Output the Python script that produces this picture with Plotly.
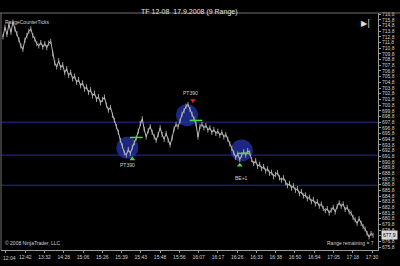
import numpy as np
import plotly.graph_objects as go

# Range bar closes (one value per plotted bar)
closes = [
    712.8, 714.5, 713.2, 715.0, 713.6, 715.4, 714.2, 713.4, 712.3, 711.2,
    710.6, 712.2, 713.0, 713.8, 714.2, 713.0, 712.4, 711.6, 711.2, 711.8,
    711.0, 711.6, 710.9, 711.7, 712.0, 709.8, 708.2, 707.5, 708.6, 707.4,
    707.9, 706.5, 707.2, 706.0, 706.6, 705.4, 705.9, 704.8, 705.3, 704.2,
    704.7, 703.6, 704.0, 703.0, 703.5, 702.4, 702.9, 701.8, 702.3, 701.2,
    701.8, 702.2, 700.8, 699.9, 700.4, 699.0, 698.1, 697.0, 696.0, 694.6,
    693.6, 692.4, 692.0, 693.0, 692.3, 693.4, 694.2, 695.0, 696.2, 697.6,
    698.4, 696.5, 695.2, 696.3, 697.0, 696.0, 695.2, 694.6, 695.6, 696.8,
    695.6, 694.8, 695.8, 694.6, 693.8, 695.0, 696.6, 697.4, 697.0, 698.0,
    699.2, 699.8, 700.6, 700.9, 700.0, 699.2, 698.4, 697.5, 695.2, 697.0,
    697.4, 696.8, 697.2, 696.4, 696.8, 696.0, 696.5, 695.8, 696.2, 695.5,
    696.0, 695.2, 695.6, 694.8, 694.0, 693.2, 692.4, 691.6, 692.2, 691.2,
    692.0, 692.6, 692.0, 692.8, 692.4, 691.2, 690.5, 691.0, 690.0, 690.4,
    689.6, 690.0, 689.2, 689.6, 688.8, 689.0, 688.2, 688.6, 688.9, 688.0,
    687.6, 688.0, 687.2, 686.6, 687.0, 686.2, 686.6, 685.8, 686.1, 685.2,
    685.6, 684.8, 685.0, 684.3, 684.6, 683.8, 684.2, 683.4, 683.8, 683.0,
    683.4, 682.6, 682.2, 682.6, 681.8, 682.3, 682.8, 682.0, 683.0, 683.6,
    683.0, 683.4, 682.4, 682.8, 682.0, 681.8, 681.0, 680.6, 680.0, 680.8,
    680.0, 679.4, 679.0, 678.2, 677.6, 678.2, 677.9,
]
bar_range = 0.9  # 9 ticks of 0.1

time_labels = ["12:04", "12:42", "13:32", "14:28", "15:06", "15:26", "15:39", "15:43",
               "15:48", "15:56", "16:07", "16:17", "16:26", "16:33", "16:38", "16:50",
               "16:54", "17:05", "17:18", "17:30"]

price_ticks = [675.8 + i for i in range(42)]
price_labels = [f"{p:.1f}".replace(".", ",") for p in price_ticks]

hlines = [697.8, 692.0, 686.7]

# Trade markers
circle_x = [62.5, 92.5, 120]
circle_y = [693.3, 699.0, 692.8]
label_x = [62.5, 94, 120]
label_y = [690.2, 702.9, 688.0]
label_txt = ["PT390", "PT390", "BE+1"]
dash_x = [67, 97, 121]
dash_y = [695.1, 698.1, 692.3]
up_x = [65, 119]
up_y = [691.3, 690.2]
down_x = [95.5]
down_y = [701.6]

n = len(closes)
x = np.arange(n)

fig = go.Figure()
for yv in hlines:
    fig.add_shape(type="line", xref="paper", x0=0, x1=1, yref="y", y0=yv, y1=yv,
                  line=dict(color="#2a2aa6", width=1), layer="below")

fig.add_trace(go.Scatter(
    x=circle_x, y=circle_y, mode="markers",
    marker=dict(size=22, color="rgba(40,55,185,0.7)", line=dict(width=0)),
    hoverinfo="skip"))

fig.add_trace(go.Scatter(
    x=x, y=closes, mode="lines",
    line=dict(color="#b8b8b8", width=1),
    error_y=dict(type="constant", value=bar_range / 2, color="#a0a0a0", thickness=1, width=0),
    hoverinfo="skip"))

fig.add_trace(go.Scatter(
    x=dash_x, y=dash_y, mode="markers",
    marker=dict(symbol="line-ew", size=9, line=dict(color="#3fe03f", width=1.5)),
    hoverinfo="skip"))
fig.add_trace(go.Scatter(
    x=up_x, y=up_y, mode="markers",
    marker=dict(symbol="triangle-up", size=5, color="#3fe03f"),
    hoverinfo="skip"))
fig.add_trace(go.Scatter(
    x=down_x, y=down_y, mode="markers",
    marker=dict(symbol="triangle-down", size=5, color="#e02020"),
    hoverinfo="skip"))

for tx, ty, tt in zip(label_x, label_y, label_txt):
    fig.add_annotation(x=tx, y=ty, text=tt, showarrow=False,
                       font=dict(size=5, color="#d0d0d0", family="Liberation Sans"))

step = (n - 3) / (len(time_labels) - 1)
tickvals = [1.5 + step * k for k in range(len(time_labels))]

font_small = dict(size=5, color="#d0d0d0", family="Liberation Sans")

fig.update_layout(
    width=400, height=266,
    paper_bgcolor="black", plot_bgcolor="black",
    margin=dict(l=1, r=22, t=13, b=16),
    showlegend=False,
    xaxis=dict(range=[-1, n + 1.5], tickvals=tickvals, ticktext=time_labels,
               showgrid=False, zeroline=False, showline=True, linecolor="#9a9a9a",
               ticks="outside", ticklen=2, tickcolor="#9a9a9a", tickfont=font_small,
               automargin=False),
    yaxis=dict(range=[675.3, 717.0], side="right", tickvals=price_ticks, ticktext=price_labels,
               showgrid=False, zeroline=False, showline=True, linecolor="#9a9a9a",
               ticks="outside", ticklen=2, tickcolor="#9a9a9a", tickfont=font_small),
)

fig.add_shape(type="line", xref="paper", yref="paper", x0=-0.01, x1=1.06, y0=1.0, y1=1.0,
              line=dict(color="#707070", width=1))
fig.add_shape(type="line", xref="paper", yref="paper", x0=0, x1=0, y0=0, y1=1.0,
              line=dict(color="#707070", width=1))

# first time label drawn as text so it is not dropped at the left edge
fig.add_annotation(xref="paper", yref="paper", x=0.0, y=0, yshift=-3, xanchor="left", yanchor="top",
                   text=time_labels[0], showarrow=False, font=font_small)

fig.add_annotation(xref="paper", yref="paper", x=0.5, y=1.0, yshift=7, text="TF 12-08  17.9.2008 (9 Range)",
                   showarrow=False, font=dict(size=7, color="#e0e0e0", family="Liberation Sans"))
fig.add_annotation(xref="paper", yref="paper", x=0.005, y=0.985, xanchor="left", yanchor="top",
                   text="RangeCounterTicks", showarrow=False, font=font_small)
fig.add_annotation(xref="paper", yref="paper", x=0.005, y=0.01, xanchor="left", yanchor="bottom",
                   text="© 2008 NinjaTrader, LLC", showarrow=False, font=font_small)
fig.add_annotation(xref="paper", yref="paper", x=0.995, y=0.01, xanchor="right", yanchor="bottom",
                   text="Range remaining = 7", showarrow=False, font=font_small)
fig.add_annotation(xref="paper", yref="paper", x=0.985, y=0.985, xanchor="right", yanchor="top",
                   text="▶|", showarrow=False, font=dict(size=8, color="#e0e0e0", family="DejaVu Sans"))
fig.add_annotation(xref="paper", x=1.0, xanchor="left", yref="y", y=closes[-1],
                   text=f"{closes[-1]:.1f}".replace(".", ","), showarrow=False, xshift=3,
                   bgcolor="#d8d8d8", font=dict(size=5, color="black", family="Liberation Sans"))

fig.write_html("out.html")
